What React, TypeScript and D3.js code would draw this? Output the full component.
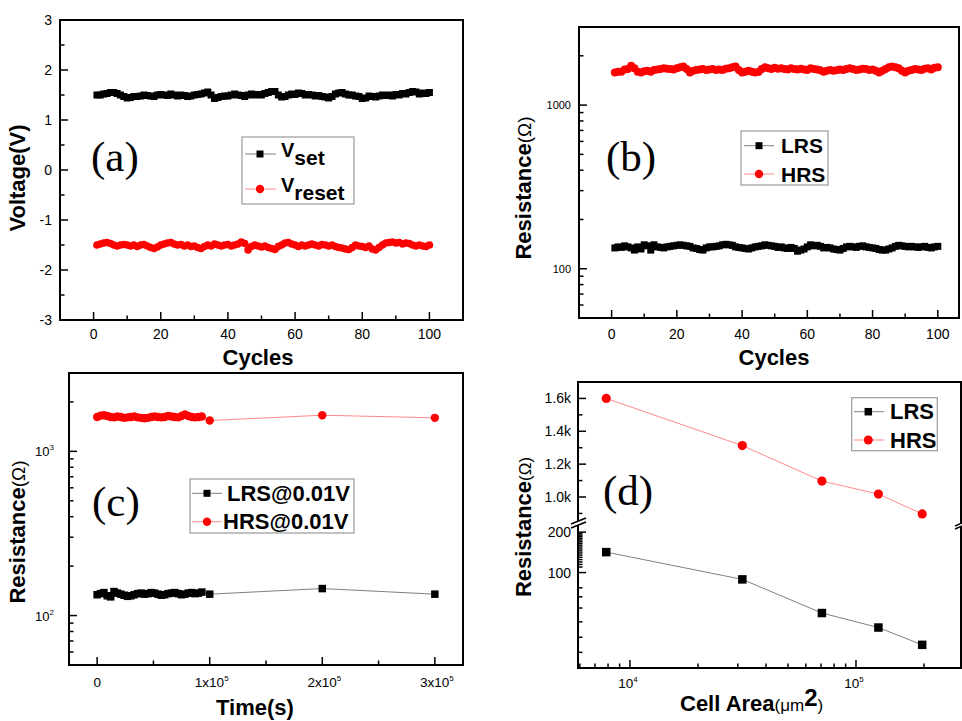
import React from 'react';
import * as d3 from 'd3';

const FONT = "'Liberation Sans', Arial, Helvetica, sans-serif";
const SERIF = "'Liberation Serif', 'Times New Roman', serif";

// ---------- Panel (a): voltages vs cycles ----------
const cycles = Array.from({ length: 100 }, (_, i) => i + 1);
const vSet = [
  1.50, 1.50, 1.52, 1.53, 1.55, 1.55, 1.53, 1.50, 1.47, 1.44,
  1.45, 1.47, 1.47, 1.48, 1.50, 1.49, 1.48, 1.47, 1.50, 1.51,
  1.50, 1.49, 1.52, 1.50, 1.48, 1.50, 1.49, 1.47, 1.48, 1.50,
  1.51, 1.52, 1.54, 1.56, 1.50, 1.43, 1.45, 1.47, 1.48, 1.48,
  1.50, 1.52, 1.50, 1.49, 1.47, 1.50, 1.52, 1.50, 1.51, 1.50,
  1.53, 1.55, 1.57, 1.57, 1.50, 1.46, 1.47, 1.50, 1.52, 1.51,
  1.54, 1.53, 1.50, 1.51, 1.50, 1.48, 1.49, 1.47, 1.46, 1.44,
  1.47, 1.52, 1.54, 1.55, 1.52, 1.50, 1.50, 1.48, 1.47, 1.43,
  1.44, 1.48, 1.47, 1.46, 1.48, 1.50, 1.49, 1.50, 1.48, 1.51,
  1.50, 1.53, 1.52, 1.55, 1.57, 1.56, 1.52, 1.54, 1.53, 1.55,
];
const vReset = [
  -1.50, -1.48, -1.46, -1.45, -1.47, -1.50, -1.52, -1.50, -1.49, -1.50,
  -1.52, -1.50, -1.53, -1.50, -1.49, -1.52, -1.55, -1.57, -1.54, -1.50,
  -1.48, -1.46, -1.45, -1.48, -1.50, -1.49, -1.52, -1.50, -1.53, -1.52,
  -1.55, -1.57, -1.53, -1.50, -1.52, -1.48, -1.50, -1.52, -1.50, -1.49,
  -1.52, -1.50, -1.48, -1.44, -1.47, -1.60, -1.53, -1.50, -1.52, -1.54,
  -1.52, -1.55, -1.57, -1.59, -1.53, -1.50, -1.46, -1.45, -1.48, -1.50,
  -1.53, -1.50, -1.52, -1.50, -1.48, -1.50, -1.52, -1.49, -1.50, -1.52,
  -1.50, -1.53, -1.55, -1.56, -1.58, -1.59, -1.55, -1.50, -1.52, -1.53,
  -1.55, -1.52, -1.58, -1.60, -1.55, -1.50, -1.46, -1.45, -1.44, -1.46,
  -1.45, -1.48, -1.46, -1.47, -1.50, -1.52, -1.50, -1.52, -1.53, -1.50,
];
const cycleMajorTicks = [0, 20, 40, 60, 80, 100];
const cycleMinorTicks = [10, 30, 50, 70, 90];
const voltMajorTicks = [-3, -2, -1, 0, 1, 2, 3];
const voltMinorTicks = [-2.5, -1.5, -0.5, 0.5, 1.5, 2.5];

// ---------- Panel (b): resistance vs cycles ----------
const hrsB = [
  1580, 1600, 1600, 1650, 1660, 1740, 1680, 1600, 1580, 1610,
  1620, 1600, 1640, 1650, 1660, 1680, 1670, 1660, 1650, 1680,
  1700, 1720, 1660, 1580, 1620, 1640, 1650, 1660, 1640, 1650,
  1660, 1640, 1650, 1640, 1670, 1680, 1700, 1720, 1640, 1580,
  1600, 1620, 1600, 1580, 1590, 1660, 1700, 1680, 1660, 1690,
  1670, 1680, 1660, 1650, 1680, 1660, 1650, 1670, 1650, 1640,
  1680, 1660, 1650, 1630, 1600, 1620, 1640, 1620, 1630, 1650,
  1640, 1660, 1680, 1660, 1640, 1650, 1670, 1660, 1640, 1650,
  1620, 1580, 1620, 1660, 1700, 1720, 1700, 1680, 1620, 1580,
  1620, 1640, 1660, 1650, 1640, 1670, 1680, 1650, 1690, 1700,
];
const lrsB = [
  134, 136, 135, 138, 136, 134, 130, 136, 132, 140,
  138, 130, 140, 136, 135, 134, 136, 137, 138, 139,
  140, 139, 138, 137, 134, 133, 131, 130, 134, 136,
  136, 137, 138, 140, 141, 140, 139, 136, 135, 134,
  133, 132, 134, 136, 137, 138, 140, 139, 138, 137,
  135, 136, 134, 133, 135, 133, 128, 130, 132, 136,
  140, 138, 139, 137, 134, 135, 134, 132, 131, 130,
  133, 136, 137, 136, 135, 137, 138, 136, 135, 134,
  133, 131, 130, 130, 132, 134, 137, 139, 138, 137,
  136, 137, 136, 135, 136, 137, 135, 134, 136, 137,
];
const logMajorTicks = [100, 1000];
const logMinorTicks = [60, 70, 80, 90, 200, 300, 400, 500, 600, 700, 800, 900, 2000];

// ---------- Panel (c): retention ----------
const timeC = [
  0, 3000, 6000, 9000, 12000, 15000, 18000, 21000, 24000, 27000,
  30000, 33000, 36000, 39000, 42000, 45000, 48000, 51000, 54000, 57000,
  60000, 63000, 66000, 69000, 72000, 75000, 78000, 81000, 84000, 87000,
  90000, 93000, 100000, 200000, 300000,
];
const hrsC = [
  1620, 1650, 1660, 1640, 1620, 1610, 1630, 1620, 1600, 1610,
  1620, 1630, 1610, 1600, 1590, 1600, 1620, 1630, 1620, 1610,
  1620, 1640, 1630, 1620, 1610, 1640, 1680, 1640, 1620, 1610,
  1620, 1630, 1540, 1660, 1600,
];
const lrsC = [
  134, 136, 138, 132, 130, 140, 137, 135, 133, 131,
  132, 134, 136, 137, 135, 136, 138, 137, 135, 133,
  134, 136, 137, 138, 136, 134, 135, 137, 138, 136,
  137, 139, 135, 146, 135,
];
const timeMajorTicks = [0, 100000, 200000, 300000];
const timeMajorLabels = ['0', '1x10', '2x10', '3x10'];
const timeMajorSup = ['', '5', '5', '5'];
const timeMinorTicks = [50000, 150000, 250000];

// ---------- Panel (d): cell area ----------
const areaD = [7854, 31416, 70686, 125664, 196350];
const hrsD = [1600, 1313, 1097, 1018, 897];
const lrsD = [142, 89, 50, 39, 29];
const areaMajorTicks = [10000, 100000];
const areaMajorSup = ['4', '5'];
const areaMinorTicks = [6000, 7000, 8000, 9000, 20000, 30000, 40000, 50000, 60000, 70000, 80000, 90000, 200000];
const upperMajorTicks = [1000, 1200, 1400, 1600];
const upperMajorLabels = ['1.0k', '1.2k', '1.4k', '1.6k'];
const upperMinorTicks = [900, 1100, 1300, 1500];
const lowerMajorTicks = [100, 200];
const lowerMinorTicks = [110, 115, 120, 125, 130, 135, 140, 145, 150, 155, 160, 165, 170, 175, 180, 185, 190, 195, 77, 66, 54.5, 43, 33, 25.5];

// ---------- helpers ----------
type Scale = (v: number) => number;
const BLACK_LINE = '#808080';
const RED_LINE = '#ff8a8a';

function Frame({ x0, x1, y0, y1 }: any) {
  return <rect x={x0} y={y0} width={x1 - x0} height={y1 - y0} fill="none" stroke="#000" strokeWidth={2} />;
}
function YTicks({ x, vals, scale, len }: { x: number; vals: number[]; scale: Scale; len: number }) {
  return (
    <g>
      {vals.map((v, i) => (
        <line key={i} x1={x} x2={x + len} y1={scale(v)} y2={scale(v)} stroke="#000" strokeWidth={1.5} />
      ))}
    </g>
  );
}
function XTicks({ y, vals, scale, len }: { y: number; vals: number[]; scale: Scale; len: number }) {
  return (
    <g>
      {vals.map((v, i) => (
        <line key={i} x1={scale(v)} x2={scale(v)} y1={y} y2={y - len} stroke="#000" strokeWidth={1.5} />
      ))}
    </g>
  );
}
function Squares({ xs, ys, sx, sy, size }: { xs: number[]; ys: number[]; sx: Scale; sy: Scale; size: number }) {
  return (
    <g>
      {ys.map((v, i) => (
        <rect key={i} x={sx(xs[i]) - size / 2} y={sy(v) - size / 2} width={size} height={size} fill="#000" />
      ))}
    </g>
  );
}
function Circles({ xs, ys, sx, sy, r }: { xs: number[]; ys: number[]; sx: Scale; sy: Scale; r: number }) {
  return (
    <g>
      {ys.map((v, i) => (
        <circle key={i} cx={sx(xs[i])} cy={sy(v)} r={r} fill="#ff0000" />
      ))}
    </g>
  );
}
function SeriesLine({ xs, ys, sx, sy, color }: { xs: number[]; ys: number[]; sx: Scale; sy: Scale; color: string }) {
  const gen = d3.line<number>().x((_, i) => sx(xs[i])).y((d) => sy(d));
  return <path d={gen(ys) || ''} fill="none" stroke={color} strokeWidth={1} />;
}
function LegendBox({ x0, y0, x1, y1, rows, lineX0, lineX1, markerX, textX, fontSize, sq, r }: any) {
  return (
    <g>
      <rect x={x0} y={y0} width={x1 - x0} height={y1 - y0} fill="#fff" stroke="#9a9a9a" strokeWidth={1.2} />
      {rows.map((row: any, i: number) => (
        <g key={i}>
          <line x1={lineX0} x2={lineX1} y1={row.y} y2={row.y} stroke={row.kind === 'sq' ? BLACK_LINE : RED_LINE} strokeWidth={1} />
          {row.kind === 'sq' ? (
            <rect x={markerX - sq / 2} y={row.y - sq / 2} width={sq} height={sq} fill="#000" />
          ) : (
            <circle cx={markerX} cy={row.y} r={r} fill="#ff0000" />
          )}
          <text x={row.tx ?? textX} y={row.y + 7.6} fontSize={fontSize} fontWeight="bold" fill="#000">
            {row.label}
          </text>
        </g>
      ))}
    </g>
  );
}

// ---------- Panel A ----------
function PanelA() {
  const P = { x0: 60, x1: 463, y0: 20, y1: 320 };
  const sx = d3.scaleLinear().domain([-10, 110]).range([P.x0, P.x1]);
  const sy = d3.scaleLinear().domain([-3, 3]).range([P.y1, P.y0]);
  return (
    <g>
      <SeriesLine xs={cycles} ys={vSet} sx={sx} sy={sy} color={BLACK_LINE} />
      <SeriesLine xs={cycles} ys={vReset} sx={sx} sy={sy} color={RED_LINE} />
      <Squares xs={cycles} ys={vSet} sx={sx} sy={sy} size={7} />
      <Circles xs={cycles} ys={vReset} sx={sx} sy={sy} r={3.8} />
      <Frame {...P} />
      <YTicks x={P.x0} vals={voltMajorTicks} scale={sy} len={8} />
      <YTicks x={P.x0} vals={voltMinorTicks} scale={sy} len={4.5} />
      <XTicks y={P.y1} vals={cycleMajorTicks} scale={sx} len={8} />
      <XTicks y={P.y1} vals={cycleMinorTicks} scale={sx} len={4.5} />
      {voltMajorTicks.map((v) => (
        <text key={v} x={52} y={sy(v) + 5} fontSize={14} textAnchor="end">{v}</text>
      ))}
      {cycleMajorTicks.map((v) => (
        <text key={v} x={sx(v)} y={339} fontSize={14} textAnchor="middle">{v}</text>
      ))}
      <text transform="translate(25,178) rotate(-90)" fontSize={22} fontWeight="bold" textAnchor="middle">Voltage(V)</text>
      <text x={258} y={365} fontSize={22} fontWeight="bold" textAnchor="middle">Cycles</text>
      <text x={91} y={171} fontFamily={SERIF} fontSize={43}>(a)</text>
      <LegendBox
        x0={242} y0={137} x1={354} y1={204}
        lineX0={245} lineX1={276} markerX={260} textX={282} fontSize={20} sq={7} r={4}
        rows={[]}
      />
      <line x1={245} x2={276} y1={154} y2={154} stroke={BLACK_LINE} strokeWidth={1} />
      <rect x={256.5} y={150.5} width={7} height={7} fill="#000" />
      <text x={281} y={157} fontSize={20} fontWeight="bold">V<tspan fontSize={21} dy={7.5}>set</tspan></text>
      <line x1={245} x2={276} y1={189} y2={189} stroke={RED_LINE} strokeWidth={1} />
      <circle cx={260} cy={189} r={4.2} fill="#ff0000" />
      <text x={281} y={192} fontSize={20} fontWeight="bold">V<tspan fontSize={21} dy={7.5}>reset</tspan></text>
    </g>
  );
}

// ---------- Panel B ----------
function PanelB() {
  const P = { x0: 579, x1: 959, y0: 27, y1: 318 };
  const sx = d3.scaleLinear().domain([-10, 106.5]).range([P.x0, P.x1]);
  const sy = d3.scaleLog().domain([50, 3000]).range([P.y1, P.y0]);
  return (
    <g>
      <SeriesLine xs={cycles} ys={lrsB} sx={sx} sy={sy} color={BLACK_LINE} />
      <SeriesLine xs={cycles} ys={hrsB} sx={sx} sy={sy} color={RED_LINE} />
      <Squares xs={cycles} ys={lrsB} sx={sx} sy={sy} size={7} />
      <Circles xs={cycles} ys={hrsB} sx={sx} sy={sy} r={4} />
      <Frame {...P} />
      <YTicks x={P.x0} vals={logMajorTicks} scale={sy} len={8} />
      <YTicks x={P.x0} vals={logMinorTicks} scale={sy} len={4.5} />
      <XTicks y={P.y1} vals={cycleMajorTicks} scale={sx} len={8} />
      <XTicks y={P.y1} vals={cycleMinorTicks} scale={sx} len={4.5} />
      {logMajorTicks.map((v) => (
        <text key={v} x={571} y={sy(v) + 4} fontSize={11} textAnchor="end">{v}</text>
      ))}
      {cycleMajorTicks.map((v) => (
        <text key={v} x={sx(v)} y={339} fontSize={14} textAnchor="middle">{v}</text>
      ))}
      <text transform="translate(531,188) rotate(-90)" textAnchor="middle">
        <tspan fontSize={22} fontWeight="bold">Resistance</tspan>
        <tspan fontSize={19}>(Ω)</tspan>
      </text>
      <text x={774} y={365} fontSize={22} fontWeight="bold" textAnchor="middle">Cycles</text>
      <text x={606} y={171} fontFamily={SERIF} fontSize={43}>(b)</text>
      <LegendBox
        x0={741} y0={131} x1={828} y1={185}
        lineX0={744} lineX1={774} markerX={759} textX={781} fontSize={21} sq={7} r={4.2}
        rows={[
          { y: 145.7, kind: 'sq', label: 'LRS' },
          { y: 174, kind: 'ci', label: 'HRS' },
        ]}
      />
    </g>
  );
}

// ---------- Panel C ----------
function PanelC() {
  const P = { x0: 69, x1: 463, y0: 373, y1: 665 };
  const sx = d3.scaleLinear().domain([-25000, 325000]).range([P.x0, P.x1]);
  const sy = d3.scaleLog().domain([50, 3000]).range([P.y1, P.y0]);
  return (
    <g>
      <SeriesLine xs={timeC} ys={lrsC} sx={sx} sy={sy} color={BLACK_LINE} />
      <SeriesLine xs={timeC} ys={hrsC} sx={sx} sy={sy} color={RED_LINE} />
      <Squares xs={timeC} ys={lrsC} sx={sx} sy={sy} size={7.5} />
      <Circles xs={timeC} ys={hrsC} sx={sx} sy={sy} r={4.2} />
      <Frame {...P} />
      <YTicks x={P.x0} vals={logMajorTicks} scale={sy} len={8} />
      <YTicks x={P.x0} vals={logMinorTicks} scale={sy} len={4.5} />
      <XTicks y={P.y1} vals={timeMajorTicks} scale={sx} len={8} />
      <XTicks y={P.y1} vals={timeMinorTicks} scale={sx} len={4.5} />
      {logMajorTicks.map((v) => (
        <text key={v} x={54} y={sy(v) + 5} fontSize={13} textAnchor="end">
          10<tspan fontSize={8} dy={-6}>{Math.round(Math.log10(v))}</tspan>
        </text>
      ))}
      {timeMajorTicks.map((v, i) => (
        <text key={v} x={sx(v) + (i === 0 ? 0 : 2)} y={687} fontSize={13.5} textAnchor="middle">
          {timeMajorLabels[i]}
          {timeMajorSup[i] && <tspan fontSize={8} dy={-6}>{timeMajorSup[i]}</tspan>}
        </text>
      ))}
      <text transform="translate(25,532) rotate(-90)" textAnchor="middle">
        <tspan fontSize={22} fontWeight="bold">Resistance</tspan>
        <tspan fontSize={19}>(Ω)</tspan>
      </text>
      <text x={255} y={715} fontSize={22} fontWeight="bold" textAnchor="middle">Time(s)</text>
      <text x={92} y={516} fontFamily={SERIF} fontSize={43}>(c)</text>
      <LegendBox
        x0={190} y0={479} x1={354} y1={533}
        lineX0={192} lineX1={222} markerX={207} textX={227} fontSize={22} sq={7} r={4.2}
        rows={[
          { y: 493.3, kind: 'sq', label: 'LRS@0.01V' },
          { y: 521.7, kind: 'ci', label: 'HRS@0.01V', tx: 223 },
        ]}
      />
    </g>
  );
}

// ---------- Panel D ----------
function PanelD() {
  const P = { x0: 578, x1: 961, y0: 382, y1: 668 };
  const sx = d3.scaleLog().domain([5890, 291500]).range([P.x0, P.x1]);
  const syU = d3.scaleLinear().domain([860, 1700]).range([520, P.y0]);
  const syL = d3.scaleLog().domain([19.5, 226]).range([P.y1, 525]);
  const brk = 523;
  return (
    <g>
      <SeriesLine xs={areaD} ys={lrsD} sx={sx} sy={syL} color={BLACK_LINE} />
      <SeriesLine xs={areaD} ys={hrsD} sx={sx} sy={syU} color={RED_LINE} />
      <Squares xs={areaD} ys={lrsD} sx={sx} sy={syL} size={8.5} />
      <Circles xs={areaD} ys={hrsD} sx={sx} sy={syU} r={4.6} />
      <Frame {...P} />
      <YTicks x={P.x0} vals={upperMajorTicks} scale={syU} len={8} />
      <YTicks x={P.x0} vals={upperMinorTicks} scale={syU} len={4.5} />
      <YTicks x={P.x0} vals={lowerMajorTicks} scale={syL} len={8} />
      <YTicks x={P.x0} vals={lowerMinorTicks} scale={syL} len={4.5} />
      <XTicks y={P.y1} vals={areaMajorTicks} scale={sx} len={8} />
      <XTicks y={P.y1} vals={areaMinorTicks} scale={sx} len={4.5} />
      {/* axis break marks */}
      <polygon points={`${P.x0 - 7},${brk + 1} ${P.x0 + 8},${brk - 5} ${P.x0 + 8},${brk - 1} ${P.x0 - 7},${brk + 5}`} fill="#fff" />
      <line x1={P.x0 - 7} y1={brk + 1} x2={P.x0 + 8} y2={brk - 5} stroke="#000" strokeWidth={1.6} />
      <line x1={P.x0 - 7} y1={brk + 5} x2={P.x0 + 8} y2={brk - 1} stroke="#000" strokeWidth={1.6} />
      <polygon points={`${P.x1 - 6},${brk + 3} ${P.x1 + 6},${brk - 2} ${P.x1 + 6},${brk + 1} ${P.x1 - 6},${brk + 6}`} fill="#fff" />
      <line x1={P.x1 - 6} y1={brk + 3} x2={P.x1 + 6} y2={brk - 2} stroke="#000" strokeWidth={1.4} />
      <line x1={P.x1 - 6} y1={brk + 6} x2={P.x1 + 6} y2={brk + 1} stroke="#000" strokeWidth={1.4} />
      {upperMajorTicks.map((v, i) => (
        <text key={v} x={571} y={syU(v) + 5} fontSize={14} textAnchor="end">{upperMajorLabels[i]}</text>
      ))}
      {lowerMajorTicks.map((v) => (
        <text key={v} x={571} y={syL(v) + 5} fontSize={14} textAnchor="end">{v}</text>
      ))}
      {areaMajorTicks.map((v, i) => (
        <text key={v} x={sx(v) - 2} y={688} fontSize={13.5} textAnchor="middle">
          10<tspan fontSize={8} dy={-6}>{areaMajorSup[i]}</tspan>
        </text>
      ))}
      <text transform="translate(531,527) rotate(-90)" textAnchor="middle">
        <tspan fontSize={22} fontWeight="bold">Resistance</tspan>
        <tspan fontSize={17}>(Ω)</tspan>
      </text>
      <text x={680} y={711} fontSize={22}>
        <tspan fontWeight="bold">Cell Area</tspan>
        <tspan fontSize={17}>(μm</tspan>
        <tspan fontSize={24} fontWeight="bold" dy={-5}>2</tspan>
        <tspan fontSize={17} dy={5}>)</tspan>
      </text>
      <text x={603} y={505} fontFamily={SERIF} fontSize={43}>(d)</text>
      <LegendBox
        x0={851.7} y0={397.7} x1={937.3} y1={450.7}
        lineX0={854} lineX1={884} markerX={868.3} textX={890} fontSize={22} sq={7.5} r={4.5}
        rows={[
          { y: 411.7, kind: 'sq', label: 'LRS' },
          { y: 440, kind: 'ci', label: 'HRS' },
        ]}
      />
    </g>
  );
}

export default function App() {
  return (
    <svg
      width={962}
      height={721}
      style={{ position: 'absolute', left: 0, top: 0, background: '#fff' }}
      fontFamily={FONT}
    >
      <rect width={962} height={721} fill="#fff" />
      <PanelA />
      <PanelB />
      <PanelC />
      <PanelD />
    </svg>
  );
}
